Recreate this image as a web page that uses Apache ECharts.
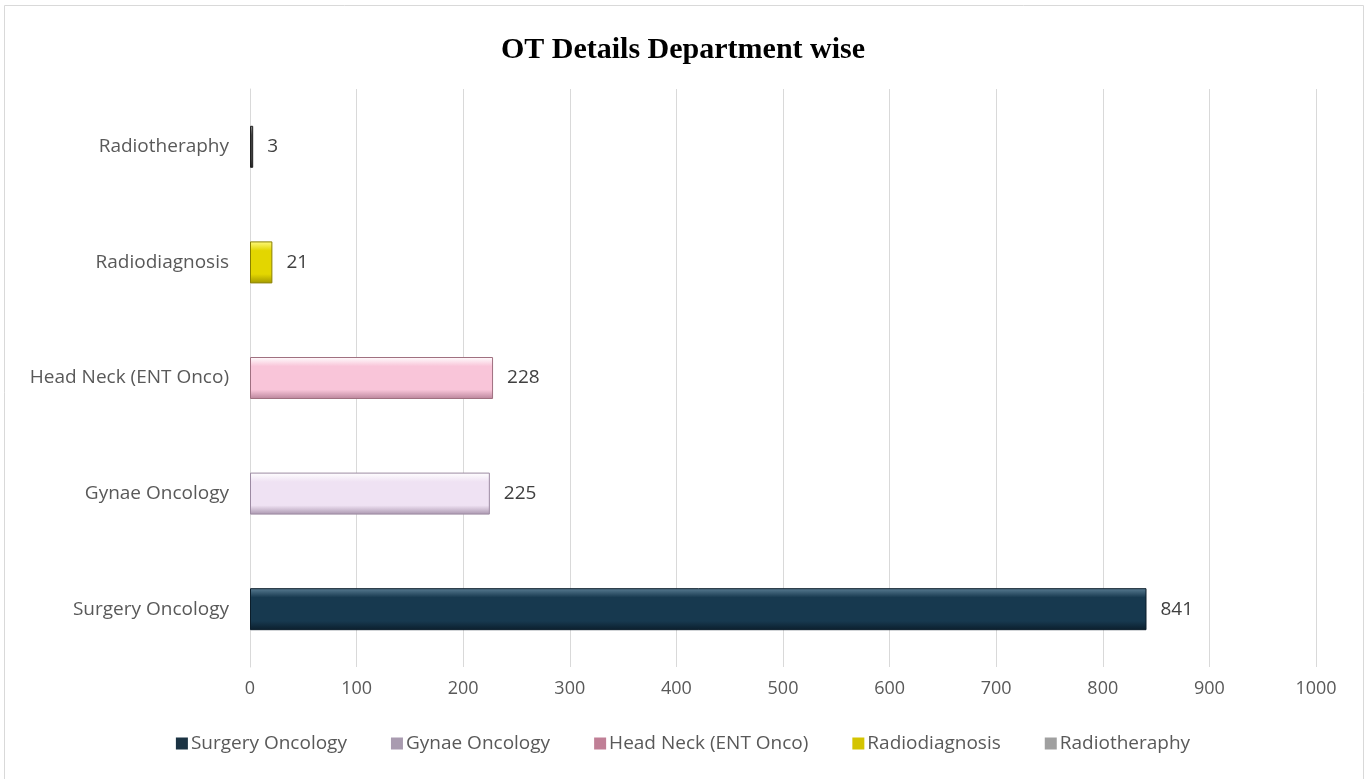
<!DOCTYPE html>
<html>
<head>
<meta charset="utf-8">
<script src="https://cdn.jsdelivr.net/npm/echarts@6/dist/echarts.min.js"></script>
<style>
html,body{margin:0;padding:0;background:#fff;}
#chart{width:1366px;height:779px;}
</style>
</head>
<body>
<div id="chart"></div>
<script>
const categories = ['Surgery Oncology', 'Gynae Oncology', 'Head Neck (ENT Onco)', 'Radiodiagnosis', 'Radiotheraphy'];
const values = [841, 225, 228, 21, 3];
const xTicks = [0, 100, 200, 300, 400, 500, 600, 700, 800, 900, 1000];
const colors = [
  {top:'#5a7d93', mid:'#17394f', bot:'#0b1e2c', border:'#0b1d2a', legend:'#1b3343'},
  {top:'#ffffff', mid:'#efe2f3', bot:'#a995ae', border:'#9c8aa2', legend:'#a99bb0'},
  {top:'#ffffff', mid:'#f9c5d9', bot:'#b9849a', border:'#a07080', legend:'#c07f96'},
  {top:'#fffa80', mid:'#e3d600', bot:'#a29800', border:'#8a8000', legend:'#d4c400'},
  {top:'#8a8a8a', mid:'#404040', bot:'#202020', border:'#202020', legend:'#a0a0a0'}
];

const chart = echarts.init(document.getElementById('chart'));
const series = categories.map((name, i) => ({
  name: name,
  type: 'bar',
  stack: 'all',
  barWidth: 42,
  data: categories.map((c, j) => j === i ? values[i] : null),
  itemStyle: {
    color: new echarts.graphic.LinearGradient(0, 0, 0, 1, [
      {offset: 0, color: colors[i].top},
      {offset: 0.22, color: colors[i].mid},
      {offset: 0.78, color: colors[i].mid},
      {offset: 1, color: colors[i].bot}
    ]),
    borderColor: colors[i].border,
    borderWidth: 1
  },
  label: {
    show: true,
    position: 'right',
    distance: 14,
    color: '#404040',
    fontFamily: 'Open Sans',
    fontSize: 19
  }
}));

chart.setOption({
  animation: false,
  title: {
    text: 'OT Details Department wise',
    left: 'center',
    top: 30,
    textStyle: {fontFamily: 'Liberation Serif', fontWeight: 'bold', fontSize: 30, color: '#000'}
  },
  graphic: [{
    type: 'rect',
    shape: {x: 4.5, y: 5.5, width: 1359, height: 800},
    style: {fill: 'none', stroke: '#d9d9d9', lineWidth: 1},
    silent: true
  }],
  legend: {
    bottom: 21,
    left: 'center',
    itemWidth: 12,
    itemHeight: 12,
    itemGap: 44,
    icon: 'rect',
    textStyle: {fontFamily: 'Open Sans', fontSize: 19, color: '#595959', padding: [0, 0, 0, -2]},
    data: categories.map((c, i) => ({name: c, itemStyle: {color: colors[i].legend, borderWidth: 0}}))
  },
  grid: {left: 250, right: 50, top: 89, bottom: 112},
  xAxis: {
    type: 'value',
    min: xTicks[0],
    max: xTicks[xTicks.length - 1],
    interval: 100,
    axisLine: {show: false},
    axisTick: {show: false},
    axisLabel: {color: '#595959', fontFamily: 'Open Sans', fontSize: 18, margin: 13, formatter: v => String(v)},
    splitLine: {lineStyle: {color: '#d9d9d9', width: 1}}
  },
  yAxis: {
    type: 'category',
    data: categories,
    axisLine: {show: true, lineStyle: {color: '#d9d9d9'}},
    axisTick: {show: false},
    axisLabel: {color: '#595959', fontFamily: 'Open Sans', fontSize: 19, margin: 21}
  },
  series: series
});
</script>
</body>
</html>
